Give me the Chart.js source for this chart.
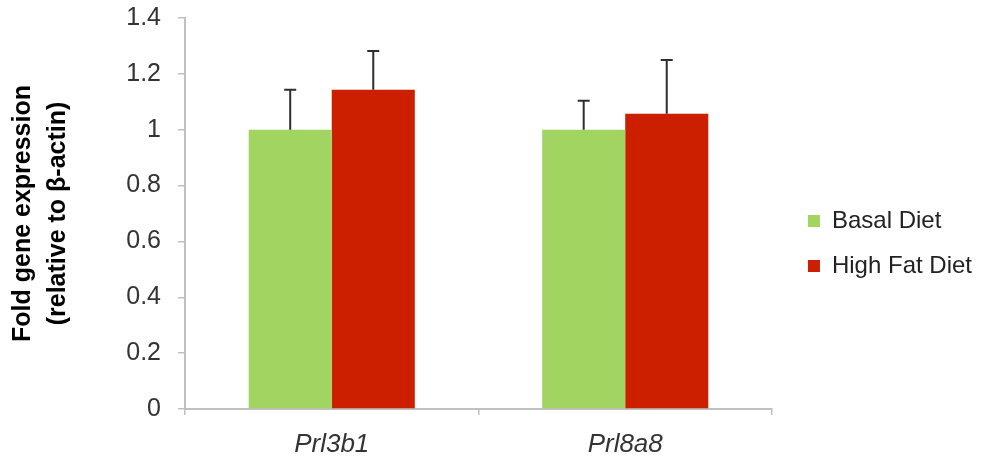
<!DOCTYPE html>
<html>
<head>
<meta charset="utf-8">
<script src="https://cdn.jsdelivr.net/npm/chart.js@4/dist/chart.umd.min.js"></script>
<style>
	html, body { margin: 0; padding: 0; background: #fff; }
	#wrap { width: 987px; height: 459px; position: relative; }
</style>
</head>
<body>
<div id="wrap"><canvas id="chart"></canvas></div>
<script>
const genes = ['Prl3b1', 'Prl8a8'];
const basalDiet = [1.0, 1.0];
const basalDietErr = [0.143, 0.104];
const highFatDiet = [1.143, 1.057];
const highFatDietErr = [0.139, 0.193];
const yMin = 0, yMax = 1.4, yStep = 0.2;

const FONT = '"Liberation Sans", Arial, Helvetica, sans-serif';
const AXIS = '#c0c0c0';

// upward-only error bars, placed with the y scale
const errorBars = {
	id: 'errorBars',
	afterDatasetsDraw(chart) {
		const ctx = chart.ctx;
		const y = chart.scales.y;
		ctx.save();
		ctx.strokeStyle = '#2e2e2e';
		ctx.lineWidth = 2;
		chart.data.datasets.forEach((ds, i) => {
			const meta = chart.getDatasetMeta(i);
			meta.data.forEach((bar, j) => {
				const top = y.getPixelForValue(ds.data[j] + ds.errors[j]);
				const base = y.getPixelForValue(ds.data[j]);
				ctx.beginPath();
				ctx.moveTo(bar.x, base);
				ctx.lineTo(bar.x, top);
				ctx.moveTo(bar.x - 6, top);
				ctx.lineTo(bar.x + 6, top);
				ctx.stroke();
			});
		});
		ctx.restore();
	}
};

// leave a gap between plot and legend
const legendNudge = {
	id: 'legendNudge',
	afterLayout(chart) {
		const lg = chart.legend;
		if (!lg) return;
		lg.left += 15;
		lg.right += 15;
	}
};

const data = {
	labels: genes,
	datasets: [{
		label: 'Basal Diet',
		data: basalDiet,
		errors: basalDietErr,
		backgroundColor: '#a2d462',
		borderWidth: 0
	}, {
		label: 'High Fat Diet',
		data: highFatDiet,
		errors: highFatDietErr,
		backgroundColor: '#cc1f00',
		borderWidth: 0
	}]
};

const config = {
	type: 'bar',
	data: data,
	options: {
		responsive: true,
		maintainAspectRatio: false,
		animation: false,
		devicePixelRatio: 1,
		datasets: {
			bar: { categoryPercentage: 0.566, barPercentage: 1.0 }
		},
		layout: {
			padding: { top: 18, right: 20, bottom: 0, left: 0 }
		},
		scales: {
			x: {
				grid: { display: true, drawOnChartArea: false, offset: true, color: AXIS, lineWidth: 1.5, tickLength: 6 },
				border: { color: AXIS, width: 2 },
				ticks: { color: '#333', padding: 14, font: { family: FONT, size: 26, style: 'italic' } },
				afterFit(s) { s.height = 50; }
			},
			y: {
				min: yMin,
				max: yMax,
				grid: { display: true, drawOnChartArea: false, color: AXIS, lineWidth: 1.5, tickLength: 7 },
				border: { color: AXIS, width: 2 },
				ticks: {
					stepSize: yStep,
					padding: 17,
					color: '#333',
					font: { family: FONT, size: 25 },
					callback: v => String(+v.toFixed(1))
				},
				title: {
					display: true,
					text: ['Fold gene expression', '(relative to β-actin)'],
					color: '#000',
					font: { family: FONT, size: 25, weight: 'bold', lineHeight: 1.4 },
					padding: { top: 5.5, bottom: 0 }
				},
				afterFit(s) {
					s.width = 185;
					s.paddingTop = 0;
					s.paddingBottom = 0;
				}
			}
		},
		plugins: {
			legend: {
				position: 'right',
				align: 'center',
				// empty title only pushes the items down a little
				title: { display: true, text: ' ', font: { size: 8, lineHeight: 1 }, padding: 1 },
				labels: {
					boxWidth: 12,
					boxHeight: 12,
					padding: 21,
					color: '#222',
					font: { family: FONT, size: 24 }
				}
			},
			tooltip: { enabled: false }
		}
	},
	plugins: [errorBars, legendNudge]
};

new Chart(document.getElementById('chart'), config);
</script>
</body>
</html>
